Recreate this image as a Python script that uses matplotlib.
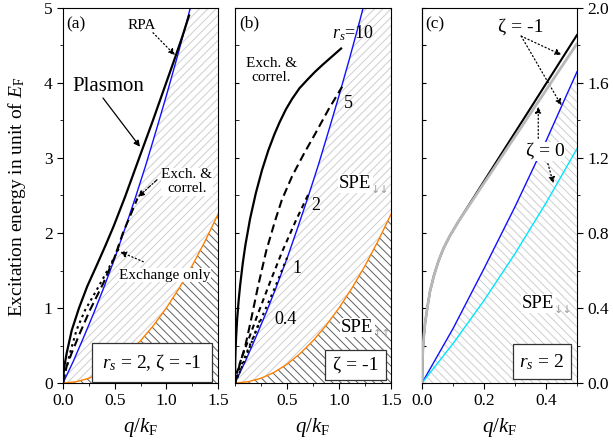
import matplotlib
matplotlib.use('Agg')
import matplotlib.pyplot as plt
from matplotlib.patches import Rectangle
from matplotlib.ticker import MultipleLocator, FixedLocator
from matplotlib.transforms import offset_copy

plt.rcParams['font.family'] = ['Liberation Serif', 'DejaVu Serif']
plt.rcParams['mathtext.fontset'] = 'custom'
plt.rcParams['mathtext.rm'] = 'Liberation Serif'
plt.rcParams['mathtext.it'] = 'Liberation Serif:italic'
plt.rcParams['hatch.linewidth'] = 0.7

# ---------------- data ----------------
# SPE boundaries, panels (a) and (b)
q_blue = [0, 0.1, 0.2, 0.3, 0.4, 0.5, 0.6, 0.7, 0.8, 0.9, 1.0, 1.1, 1.2, 1.3]
w_blue = [0, 0.29, 0.61, 0.94, 1.29, 1.66, 2.06, 2.47, 2.90, 3.36, 3.83, 4.32, 4.83, 5.37]
q_orange = [0, 0.125, 0.25, 0.375, 0.5, 0.625, 0.75, 0.875, 1.0, 1.125, 1.25, 1.375, 1.5]
w_orange = [0, 0.016, 0.063, 0.141, 0.25, 0.391, 0.563, 0.766, 1.0, 1.266, 1.563, 1.891, 2.25]

# panel (a): plasmon dispersions, rs = 2, zeta = -1
q_rpa = [0, 0.005, 0.013, 0.036, 0.084, 0.155, 0.235, 0.33, 0.41, 0.49, 0.60, 0.745, 0.87, 0.98, 1.08, 1.15, 1.22]
w_rpa = [0, 0.12, 0.22, 0.40, 0.70, 1.0, 1.29, 1.58, 1.83, 2.09, 2.48, 3.03, 3.50, 3.93, 4.32, 4.60, 4.90]
q_xc = [0, 0.01, 0.035, 0.084, 0.165, 0.26, 0.39, 0.50, 0.58, 0.65, 0.72]
w_xc = [0, 0.1, 0.22, 0.40, 0.67, 0.97, 1.33, 1.68, 2.0, 2.23, 2.46]
q_x = [0, 0.015, 0.068, 0.132, 0.213, 0.326, 0.45, 0.55]
w_x = [0, 0.1, 0.40, 0.71, 0.97, 1.24, 1.55, 1.82]

# panel (b): exchange-correlation plasmons for several rs, zeta = -1
q_rs10 = [0, 0.002, 0.005, 0.01, 0.02, 0.035, 0.05, 0.075, 0.1, 0.145, 0.2, 0.26, 0.32,
          0.38, 0.43, 0.49, 0.55, 0.62, 0.7, 0.77, 0.84, 0.93, 1.02]
w_rs10 = [0, 0.27, 0.42, 0.59, 0.84, 1.10, 1.31, 1.60, 1.84, 2.19, 2.53, 2.84, 3.10,
          3.32, 3.48, 3.65, 3.79, 3.93, 4.05, 4.15, 4.24, 4.35, 4.46]
q_rs5 = [0, 0.02, 0.05, 0.10, 0.16, 0.22, 0.30, 0.387, 0.45, 0.55, 0.66, 0.774, 0.90, 1.03]
w_rs5 = [0, 0.12, 0.27, 0.50, 0.88, 1.28, 1.76, 2.17, 2.44, 2.76, 3.05, 3.33, 3.65, 3.95]
q_rs2 = [0, 0.02, 0.06, 0.13, 0.22, 0.33, 0.45, 0.58, 0.71]
w_rs2 = [0, 0.15, 0.32, 0.58, 0.92, 1.32, 1.74, 2.15, 2.53]
q_rs1 = [0, 0.03, 0.08, 0.16, 0.26, 0.38, 0.50]
w_rs1 = [0, 0.12, 0.30, 0.56, 0.88, 1.26, 1.67]
q_rs04 = [0, 0.04, 0.10, 0.17, 0.24]
w_rs04 = [0, 0.13, 0.33, 0.58, 0.84]

# panel (c): rs = 2, zeta = -1 and zeta = 0
q_c = [0, 0.1, 0.2, 0.3, 0.4, 0.5]
w_blue_c = [0, 0.29, 0.61, 0.94, 1.29, 1.66]
w_cyan_c = [0, 0.21, 0.44, 0.69, 0.96, 1.25]
q_pl_c = [0, 0.002, 0.005, 0.01, 0.018, 0.026, 0.038, 0.053, 0.07, 0.09, 0.117, 0.15,
          0.193, 0.23, 0.268, 0.31, 0.354, 0.39, 0.429, 0.465, 0.5]
w_pl_m1 = [0, 0.15, 0.23, 0.32, 0.41, 0.49, 0.57, 0.65, 0.72, 0.785, 0.86, 0.946,
           1.058, 1.154, 1.253, 1.362, 1.476, 1.57, 1.671, 1.765, 1.856]
w_pl_0 = [0, 0.15, 0.23, 0.32, 0.41, 0.49, 0.57, 0.65, 0.72, 0.785, 0.86, 0.942,
          1.049, 1.14, 1.235, 1.339, 1.448, 1.537, 1.634, 1.723, 1.81]

# ---------------- figure ----------------
fig = plt.figure(figsize=(6.13, 4.48), dpi=100)
W, H = 613.0, 448.0
def axrect(x0, x1, y0=8, y1=383):
    return [x0 / W, (H - y1) / H, (x1 - x0) / W, (y1 - y0) / H]

axa = fig.add_axes(axrect(63, 218))
axb = fig.add_axes(axrect(235, 391))
axc = fig.add_axes(axrect(422, 577))

BLUE = '#1010ff'
ORANGE = '#ff8000'
CYAN = '#00e5ff'
LHATCH = '#cfcfcf'
DHATCH = '#606060'

def hatch_regions(ax):
    px = list(q_blue) + [1.5, 1.5] + q_orange[::-1]
    py = list(w_blue) + [w_blue[-1], w_orange[-1]] + w_orange[::-1]
    ax.fill(px, py, facecolor='none', edgecolor=LHATCH, hatch='////', linewidth=0, zorder=0.5)
    ax.fill(q_orange + [1.5], w_orange + [0], facecolor='none', edgecolor=DHATCH,
            hatch='\\\\\\\\', linewidth=0, zorder=0.5)
    ax.plot(q_blue, w_blue, color=BLUE, lw=1.0, zorder=2)
    ax.plot(q_orange, w_orange, color=ORANGE, lw=1.0, zorder=2)

def style_bottom(ax):
    ax.tick_params(axis='x', which='both', direction='out', top=False, bottom=True, labelsize=12.5)
    ax.tick_params(axis='x', which='major', length=4)
    ax.tick_params(axis='x', which='minor', length=2.5)
    ax.set_xlabel(r'$q/k_{\rm F}$', fontsize=15, labelpad=5)

def boxtext(ax, x0, x1, y0, y1, s, fs=14):
    ax.add_patch(Rectangle((x0, y0), x1 - x0, y1 - y0, transform=ax.transAxes,
                           facecolor='white', edgecolor='#333333', lw=0.9, zorder=5))
    ax.text((x0 + x1) / 2, (y0 + y1) / 2, s, transform=ax.transAxes, ha='center',
            va='center', fontsize=fs, zorder=6)

def spe(ax, x, y, arrows, fs=13.5):
    t = ax.text(x, y, 'SPE', fontsize=fs, ha='left', va='baseline', zorder=4,
                bbox=dict(facecolor='white', edgecolor='none', pad=1))
    fig.canvas.draw()
    bb = t.get_window_extent()
    inv = ax.transData.inverted()
    xe, ye = inv.transform((bb.x1, bb.y0))
    ax.text(xe, y, arrows, fontsize=8, color='#a0a0a0', ha='left', va='top',
            family=['DejaVu Sans'], zorder=4,
            transform=offset_copy(ax.transData, fig=fig, x=-0.5, y=2, units='points'))

# ---------- panel (a) ----------
ax = axa
hatch_regions(ax)
ax.plot(q_rpa, w_rpa, color='k', lw=1.6, zorder=3)
ax.plot(q_xc, w_xc, color='k', lw=1.5, dashes=(4, 2.2), zorder=3)
ax.plot(q_x, w_x, color='k', lw=1.5, dashes=(1.2, 1.8), zorder=3)
ax.set_xlim(0, 1.5)
ax.set_ylim(0, 5)
ax.xaxis.set_major_locator(MultipleLocator(0.5))
ax.xaxis.set_minor_locator(MultipleLocator(0.25))
ax.yaxis.set_major_locator(MultipleLocator(1))
ax.yaxis.set_minor_locator(MultipleLocator(0.5))
ax.xaxis.set_major_formatter(plt.FormatStrFormatter('%.1f'))
ax.tick_params(axis='y', which='both', direction='out', left=True, right=False, labelsize=12.5)
ax.tick_params(axis='y', which='major', length=4)
ax.tick_params(axis='y', which='minor', length=2.5)
style_bottom(ax)
ax.text(0.02, 0.955, '(a)', transform=ax.transAxes, fontsize=12.5, va='center', ha='left')
ax.text(0.762, 4.77, 'RPA', fontsize=11, ha='center', va='center')
ax.annotate('', xy=(1.084, 4.37), xytext=(0.871, 4.67),
            arrowprops=dict(arrowstyle='-|>', color='k', lw=0.9, linestyle=(0, (1, 2)),
                            mutation_scale=9, shrinkA=0, shrinkB=0))
ax.text(0.436, 3.95, 'Plasmon', fontsize=15, ha='center', va='center')
ax.annotate('', xy=(0.745, 3.15), xytext=(0.387, 3.8),
            arrowprops=dict(arrowstyle='-|>', color='k', lw=0.9,
                            mutation_scale=9, shrinkA=0, shrinkB=0))
ax.text(1.2, 2.68, 'Exch. &\ncorrel.', fontsize=11, ha='center', va='center',
        linespacing=1.1, zorder=4, bbox=dict(facecolor='white', edgecolor='none', pad=0.5))
ax.annotate('', xy=(0.726, 2.48), xytext=(0.91, 2.71),
            arrowprops=dict(arrowstyle='-|>', color='k', lw=0.9, linestyle=(0, (3, 1.5, 1, 1.5)),
                            mutation_scale=9, shrinkA=0, shrinkB=0))
ax.text(0.987, 1.44, 'Exchange only', fontsize=11, ha='center', va='center', zorder=4,
        bbox=dict(facecolor='white', edgecolor='none', pad=0.5))
ax.annotate('', xy=(0.552, 1.75), xytext=(0.777, 1.617),
            arrowprops=dict(arrowstyle='-|>', color='k', lw=0.9, linestyle=(0, (1, 2)),
                            mutation_scale=9, shrinkA=0, shrinkB=0))
boxtext(ax, 0.185, 0.963, 0.0035, 0.106, r'$r_s$ = 2, ζ = -1')

# ---------- panel (b) ----------
ax = axb
hatch_regions(ax)
ax.plot(q_rs10, w_rs10, color='k', lw=1.6, zorder=3)
ax.plot(q_rs5, w_rs5, color='k', lw=1.5, dashes=(4, 2.2), zorder=3)
ax.plot(q_rs2, w_rs2, color='k', lw=1.5, dashes=(2.5, 2.0), zorder=3)
ax.plot(q_rs1, w_rs1, color='k', lw=1.5, dashes=(1.2, 2.0), zorder=3)
ax.plot(q_rs04, w_rs04, color='k', lw=1.5, dashes=(1.0, 1.6), zorder=3)
ax.set_xlim(0, 1.5)
ax.set_ylim(0, 5)
ax.xaxis.set_major_locator(FixedLocator([0.5, 1.0, 1.5]))
ax.xaxis.set_minor_locator(MultipleLocator(0.25))
ax.xaxis.set_major_formatter(plt.FormatStrFormatter('%.1f'))
ax.yaxis.set_major_locator(MultipleLocator(1))
ax.yaxis.set_minor_locator(MultipleLocator(0.5))
ax.tick_params(axis='y', which='both', direction='in', left=True, right=False,
               labelleft=False, length=3)
style_bottom(ax)
ax.text(0.03, 0.96, '(b)', transform=ax.transAxes, fontsize=12.5, va='center', ha='left')
ax.text(0.35, 4.17, 'Exch. &\ncorrel.', fontsize=11, ha='center', va='center', linespacing=1.1)
ax.text(1.13, 4.66, r'$r_s$=10', fontsize=13, ha='center', va='center', zorder=4)
ax.text(1.094, 3.73, '5', fontsize=13, ha='center', va='center', zorder=4)
ax.text(0.774, 2.37, '2', fontsize=13, ha='center', va='center', zorder=4)
ax.text(0.597, 1.53, '1', fontsize=13, ha='center', va='center', zorder=4)
ax.text(0.484, 0.84, '0.4', fontsize=13, ha='center', va='center', zorder=4)
boxtext(ax, 0.577, 0.968, 0.008, 0.088, 'ζ = -1')

# ---------- panel (c) ----------
ax = axc
ax.fill(q_c + [0.5], w_blue_c + [0], facecolor='none', edgecolor=LHATCH,
        hatch='\\\\\\\\', linewidth=0, zorder=0.5)
ax.plot(q_c, w_blue_c, color=BLUE, lw=1.0, zorder=2)
ax.plot(q_c, w_cyan_c, color=CYAN, lw=1.0, zorder=2)
ax.plot(q_pl_c, w_pl_m1, color='k', lw=1.5, zorder=3)
ax.plot(q_pl_c, w_pl_0, color='#b8b8b8', lw=2.0, zorder=3.1)
ax.set_xlim(0, 0.5)
ax.set_ylim(0, 2.0)
ax.xaxis.set_major_locator(FixedLocator([0.0, 0.2, 0.4]))
ax.xaxis.set_minor_locator(MultipleLocator(0.1))
ax.xaxis.set_major_formatter(plt.FormatStrFormatter('%.1f'))
ax.yaxis.set_major_locator(MultipleLocator(0.4))
ax.yaxis.set_minor_locator(MultipleLocator(0.2))
ax.yaxis.set_major_formatter(plt.FormatStrFormatter('%.1f'))
ax.yaxis.tick_right()
ax.tick_params(axis='y', which='both', direction='out', right=True, left=False,
               labelright=True, labelleft=False, labelsize=12.5)
ax.tick_params(axis='y', which='major', length=4)
ax.tick_params(axis='y', which='minor', length=2.5)
sec = ax.secondary_yaxis('left')
sec.yaxis.set_major_locator(MultipleLocator(0.2))
sec.tick_params(axis='y', direction='in', length=3, labelleft=False)
style_bottom(ax)
ax.text(0.02, 0.955, '(c)', transform=ax.transAxes, fontsize=12.5, va='center', ha='left')
ax.text(0.32, 1.90, 'ζ = -1', fontsize=14, ha='center', va='center')
for tgt in [(0.45, 1.75), (0.45, 1.48)]:
    ax.annotate('', xy=tgt, xytext=(0.32, 1.85),
                arrowprops=dict(arrowstyle='-|>', color='k', lw=0.9, linestyle=(0, (1, 2)),
                                mutation_scale=9, shrinkA=0, shrinkB=0))
ax.text(0.397, 1.234, 'ζ = 0', fontsize=14, ha='center', va='center', zorder=4,
        bbox=dict(facecolor='white', edgecolor='none', pad=0.5))
ax.annotate('', xy=(0.375, 1.474), xytext=(0.375, 1.305),
            arrowprops=dict(arrowstyle='-|>', color='k', lw=0.9, linestyle=(0, (1, 2)),
                            mutation_scale=9, shrinkA=0, shrinkB=0))
ax.annotate('', xy=(0.424, 1.065), xytext=(0.406, 1.17),
            arrowprops=dict(arrowstyle='-|>', color='k', lw=0.9, linestyle=(0, (1, 2)),
                            mutation_scale=9, shrinkA=0, shrinkB=0))
boxtext(ax, 0.585, 0.961, 0.0099, 0.103, r'$r_s$ = 2')

spe(axb, 1.00, 2.60, '↓↓')
spe(axb, 1.02, 0.68, '↑↑')
spe(axc, 0.322, 0.40, '↓↓')

fig.text(0.028, 0.561, r'Excitation energy in unit of $E_{\rm F}$', rotation=90,
         fontsize=14, ha='center', va='center')

fig.savefig('out.png', dpi=100)
